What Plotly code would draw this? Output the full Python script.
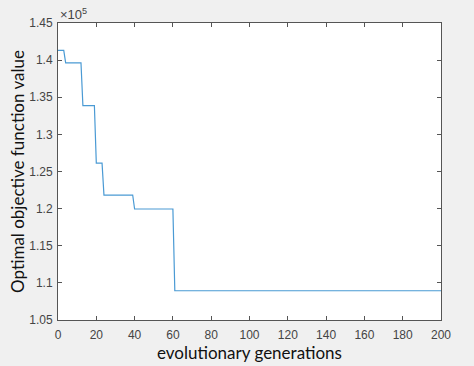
import plotly.graph_objects as go

# Breakpoints of the best-so-far curve (value in units of 1e5)
generations = [0, 3, 4, 12, 13, 19, 20, 23, 24, 39, 40, 60, 61, 200]
objective_1e5 = [1.4132, 1.4132, 1.3964, 1.3964, 1.3388, 1.3388, 1.2613, 1.2613,
                 1.2183, 1.2183, 1.1995, 1.1995, 1.0894, 1.0894]

x_ticks = [0, 20, 40, 60, 80, 100, 120, 140, 160, 180, 200]
y_ticks = [1.05, 1.1, 1.15, 1.2, 1.25, 1.3, 1.35, 1.4, 1.45]
y_ticktext = ["1.05", "1.1", "1.15", "1.2", "1.25", "1.3", "1.35", "1.4", "1.45"]

fig = go.Figure()
fig.add_trace(go.Scatter(x=generations, y=objective_1e5, mode="lines",
                         line=dict(color="#4a9ad4", width=1.2), showlegend=False))

axis_common = dict(showgrid=False, zeroline=False, showline=True, linecolor="#555555",
                   linewidth=1, mirror="allticks", ticks="inside", ticklen=4,
                   tickcolor="#555555", tickfont=dict(family="Liberation Sans, Arial", size=12, color="#444444"))

fig.update_layout(
    width=474, height=366,
    margin=dict(l=58, r=33, t=23, b=41),
    paper_bgcolor="#f0f0f0", plot_bgcolor="#ffffff",
    xaxis=dict(range=[0, 200], tickvals=x_ticks, ticklabelstandoff=4,
               title=dict(text="evolutionary generations", standoff=0,
                          font=dict(family="Lato", size=17, color="#111111")),
               **axis_common),
    yaxis=dict(range=[1.05, 1.45], tickvals=y_ticks, ticktext=y_ticktext,
               ticklabelstandoff=2,
               title=dict(text="Optimal objective function value", standoff=0,
                          font=dict(family="Lato", size=17, color="#111111")),
               **axis_common),
    annotations=[dict(text="×10<sup>5</sup>", x=0, y=1, xref="paper", yref="paper",
                      xanchor="left", yanchor="bottom", showarrow=False, yshift=-1,
                      font=dict(family="Liberation Sans, Arial", size=13, color="#444444"))],
)

fig.write_html("out.html", config={"displayModeBar": False},
               post_script="document.body.style.margin='0';")
